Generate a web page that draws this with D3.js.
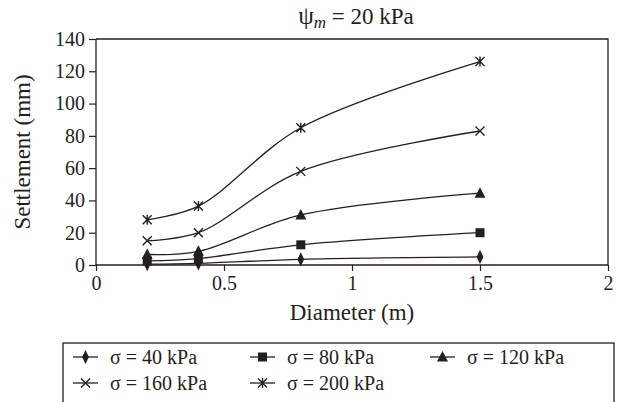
<!DOCTYPE html>
<html>
<head>
<meta charset="utf-8">
<script src="https://cdn.jsdelivr.net/npm/d3@7"></script>
<style>
body{margin:0;background:#fff;}
text{font-family:"Liberation Serif","Times New Roman",serif;fill:#231f20;}
</style>
</head>
<body>
<div id="chart"></div>
<script>
var w=618
var h=402

//Data
var diameters=[0.2,0.4,0.8,1.5]
var s40=[0.5,1,3.5,5]
var s80=[2.5,4,12.5,20]
var s120=[6.5,8.5,31,44.5]
var s160=[15,20,58,83]
var s200=[28,36.5,85,126]
var seriesNames=["σ = 40 kPa","σ = 80 kPa","σ = 120 kPa","σ = 160 kPa","σ = 200 kPa"]
var seriesMarks=["diamond","square","triangle","cross","star"]
var xTicks=[0,0.5,1,1.5,2]
var yTicks=[0,20,40,60,80,100,120,140]

var allSeries=[s40,s80,s120,s160,s200].map(function(vals,i) {
    return {name:seriesNames[i],mark:seriesMarks[i],
            points:vals.map(function(v,j) {return {x:diameters[j],y:v};})};
});

var padLeft=96, padRight=608, padTop=39, padBottom=265
var ink="#231f20"

var svg=d3.select("#chart")
          .append("svg")
          .attr("width",w)
          .attr("height",h);

var xScale=d3.scaleLinear().domain([0,2]).range([padLeft,padRight]);
var yScale=d3.scaleLinear().domain([0,140]).range([padBottom,padTop]);

//Frame on top and right
svg.append("path")
   .attr("d","M"+padLeft+","+padTop+"H"+padRight+"V"+padBottom)
   .attr("fill","none")
   .attr("stroke",ink)
   .attr("stroke-width",1.3);

//x-axis
var xAxis=d3.axisBottom(xScale)
            .tickValues(xTicks)
            .tickFormat(d3.format("~g"))
            .tickSize(6)
            .tickPadding(5);
var gx=svg.append("g")
   .attr("transform","translate(0,"+padBottom+")")
   .call(xAxis);

//y-axis
var yAxis=d3.axisLeft(yScale)
            .tickValues(yTicks)
            .tickSize(7)
            .tickPadding(4);
var gy=svg.append("g")
   .attr("transform","translate("+padLeft+",0)")
   .call(yAxis);

[gx,gy].forEach(function(g) {
    g.attr("font-family",null);
    g.select(".domain").attr("stroke",ink).attr("stroke-width",1.3);
    g.selectAll(".tick line").attr("stroke",ink).attr("stroke-width",1.2);
    g.selectAll(".tick text")
     .attr("font-size",20)
     .attr("fill",ink);
});
gx.select(".domain").attr("d","M"+padLeft+",0H"+padRight);
gy.select(".domain").attr("d","M0,"+padBottom+"V"+padTop);

//Axis titles
svg.append("text")
   .attr("x",(padLeft+padRight)/2)
   .attr("y",320)
   .attr("text-anchor","middle")
   .attr("font-size",23)
   .text("Diameter (m)");

svg.append("text")
   .attr("transform","translate(30,"+((padTop+padBottom)/2)+") rotate(-90)")
   .attr("text-anchor","middle")
   .attr("font-size",23)
   .text("Settlement (mm)");

//Chart title
var title=svg.append("text")
   .attr("x",356)
   .attr("y",24)
   .attr("text-anchor","middle")
   .attr("font-size",23);
title.append("tspan").attr("font-size",25).text("ψ");
title.append("tspan").attr("font-style","italic").attr("font-size",17).attr("dy",4).text("m");
title.append("tspan").attr("dy",-4).text(" = 20 kPa");

//Marker drawing
function drawMark(g,type,cx,cy) {
    if (type=="diamond") {
        g.append("path").attr("d",d3.symbol(d3.symbolDiamond,40)())
         .attr("transform","translate("+cx+","+cy+") scale(1,1.2)")
         .attr("fill",ink);
    } else if (type=="square") {
        g.append("rect").attr("x",cx-4.5).attr("y",cy-4.5)
         .attr("width",9).attr("height",9).attr("fill",ink);
    } else if (type=="triangle") {
        g.append("path").attr("d","M"+cx+","+(cy-6)+"L"+(cx+5.5)+","+(cy+4.5)+"L"+(cx-5.5)+","+(cy+4.5)+"Z")
         .attr("fill",ink);
    } else if (type=="cross") {
        g.append("path").attr("d","M"+(cx-4.5)+","+(cy-4.5)+"L"+(cx+4.5)+","+(cy+4.5)+"M"+(cx+4.5)+","+(cy-4.5)+"L"+(cx-4.5)+","+(cy+4.5))
         .attr("stroke",ink).attr("stroke-width",1.4);
    } else {
        g.append("path").attr("d","M"+(cx-4.5)+","+(cy-4.5)+"L"+(cx+4.5)+","+(cy+4.5)+"M"+(cx+4.5)+","+(cy-4.5)+"L"+(cx-4.5)+","+(cy+4.5)+"M"+cx+","+(cy-5)+"V"+(cy+5))
         .attr("stroke",ink).attr("stroke-width",1.4);
    }
}

//Lines
var line=d3.line()
           .x(function(d) {return xScale(d.x);})
           .y(function(d) {return yScale(d.y);})
           .curve(d3.curveCatmullRom.alpha(0.5));

var plot=svg.append("g").attr("class","series");
allSeries.forEach(function(s) {
    plot.append("path")
        .attr("d",line(s.points))
        .attr("fill","none")
        .attr("stroke",ink)
        .attr("stroke-width",1.3);
    s.points.forEach(function(p) {
        drawMark(plot,s.mark,xScale(p.x),yScale(p.y));
    });
});

//Legend
var legend=svg.append("g").attr("class","legend");
legend.append("rect")
      .attr("x",63).attr("y",343)
      .attr("width",551).attr("height",80)
      .attr("fill","none")
      .attr("stroke",ink)
      .attr("stroke-width",1.3);

var colX=[73,250,430]
var rowY=[357,383]
allSeries.forEach(function(s,i) {
    var lx=colX[i%3], ly=rowY[Math.floor(i/3)];
    legend.append("line")
          .attr("x1",lx).attr("x2",lx+25)
          .attr("y1",ly).attr("y2",ly)
          .attr("stroke",ink).attr("stroke-width",1.3);
    drawMark(legend,s.mark,lx+12.5,ly);
    legend.append("text")
          .attr("x",lx+37)
          .attr("y",ly)
          .attr("dominant-baseline","central")
          .attr("font-size",20)
          .text(s.name);
});
</script>
</body>
</html>
